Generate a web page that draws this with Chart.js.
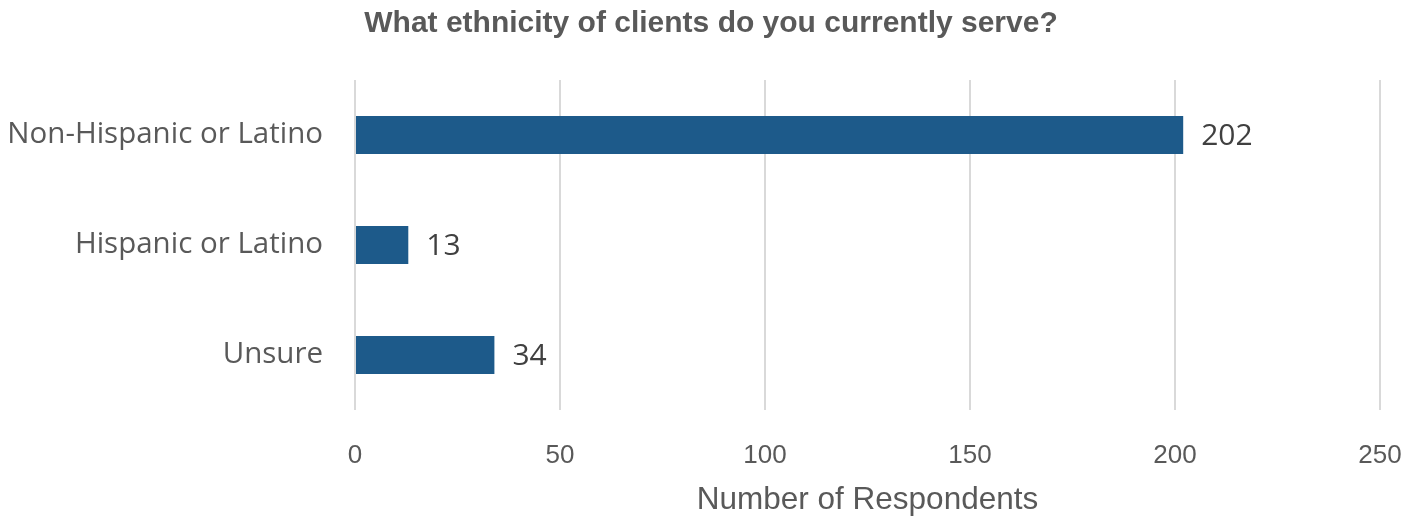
<!DOCTYPE html>
<html>
<head>
<meta charset="utf-8">
<title>Client ethnicity</title>
<script src="https://cdn.jsdelivr.net/npm/chart.js@4/dist/chart.umd.min.js"></script>
<style>
    html, body { margin: 0; padding: 0; background: #ffffff; }
    #wrap { width: 1422px; height: 519px; position: relative; }
</style>
</head>
<body>
<div id="wrap"><canvas id="ethnicityChart"></canvas></div>
<script>
// Survey answers
const categories = ['Non-Hispanic or Latino', 'Hispanic or Latino', 'Unsure'];
const respondents = [202, 13, 34];
const xTicks = [0, 50, 100, 150, 200, 250];

const chartTitle = 'What ethnicity of clients do you currently serve?';
const axisTitle = 'Number of Respondents';

const barColor = '#1d5a8a';
const textColor = '#595959';
const sansFont = '"Liberation Sans", Arial, sans-serif';

// Title centred on the whole canvas, not just the chart area
const titlePlugin = {
    id: 'centerTitle',
    afterDraw: (chart) => {
        const ctx = chart.ctx;
        ctx.save();
        ctx.font = 'bold 30px ' + sansFont;
        ctx.fillStyle = textColor;
        ctx.textAlign = 'center';
        ctx.textBaseline = 'middle';
        ctx.fillText(chartTitle, chart.width / 2, 24);
        ctx.restore();
    }
};

// Value written just past the end of each bar
const valueLabels = {
    id: 'valueLabels',
    afterDatasetsDraw: (chart) => {
        const ctx = chart.ctx;
        const meta = chart.getDatasetMeta(0);
        ctx.save();
        ctx.font = '30px "Open Sans"';
        ctx.fillStyle = '#404040';
        ctx.textAlign = 'left';
        ctx.textBaseline = 'middle';
        meta.data.forEach((bar, i) => {
            ctx.fillText(respondents[i], bar.x + 18, bar.y + 1);
        });
        ctx.restore();
    }
};

new Chart(document.getElementById('ethnicityChart'), {
    type: 'bar',
    data: {
        labels: categories,
        datasets: [{
            data: respondents,
            backgroundColor: barColor,
            borderWidth: 0,
            categoryPercentage: 0.69,
            barPercentage: 0.5
        }]
    },
    options: {
        indexAxis: 'y',
        responsive: true,
        maintainAspectRatio: false,
        animation: false,
        layout: {
            padding: { top: 80, right: 42, left: 0, bottom: 0 }
        },
        plugins: {
            legend: { display: false },
            tooltip: { enabled: false }
        },
        scales: {
            x: {
                min: 0,
                max: 250,
                afterBuildTicks: (scale) => {
                    scale.ticks = xTicks.map(v => ({ value: v }));
                },
                afterFit: (scale) => {
                    // keep the plot edge fixed, the layout padding already leaves room for "250"
                    scale.height = 109;
                    scale.paddingLeft = 0;
                    scale.paddingRight = 0;
                },
                ticks: {
                    color: textColor,
                    padding: 30,
                    font: { family: sansFont, size: 26 }
                },
                grid: {
                    color: '#d9d9d9',
                    lineWidth: 2,
                    drawTicks: false
                },
                border: { display: false },
                title: {
                    display: true,
                    text: axisTitle,
                    color: textColor,
                    font: { family: sansFont, size: 31.5 },
                    padding: { top: 4, bottom: 0 }
                }
            },
            y: {
                afterFit: (scale) => { scale.width = 355; },
                ticks: {
                    color: textColor,
                    padding: 32,
                    font: { family: 'Open Sans', size: 29.5 }
                },
                grid: { display: false, drawTicks: false },
                border: { display: false }
            }
        }
    },
    plugins: [titlePlugin, valueLabels]
});
</script>
</body>
</html>
